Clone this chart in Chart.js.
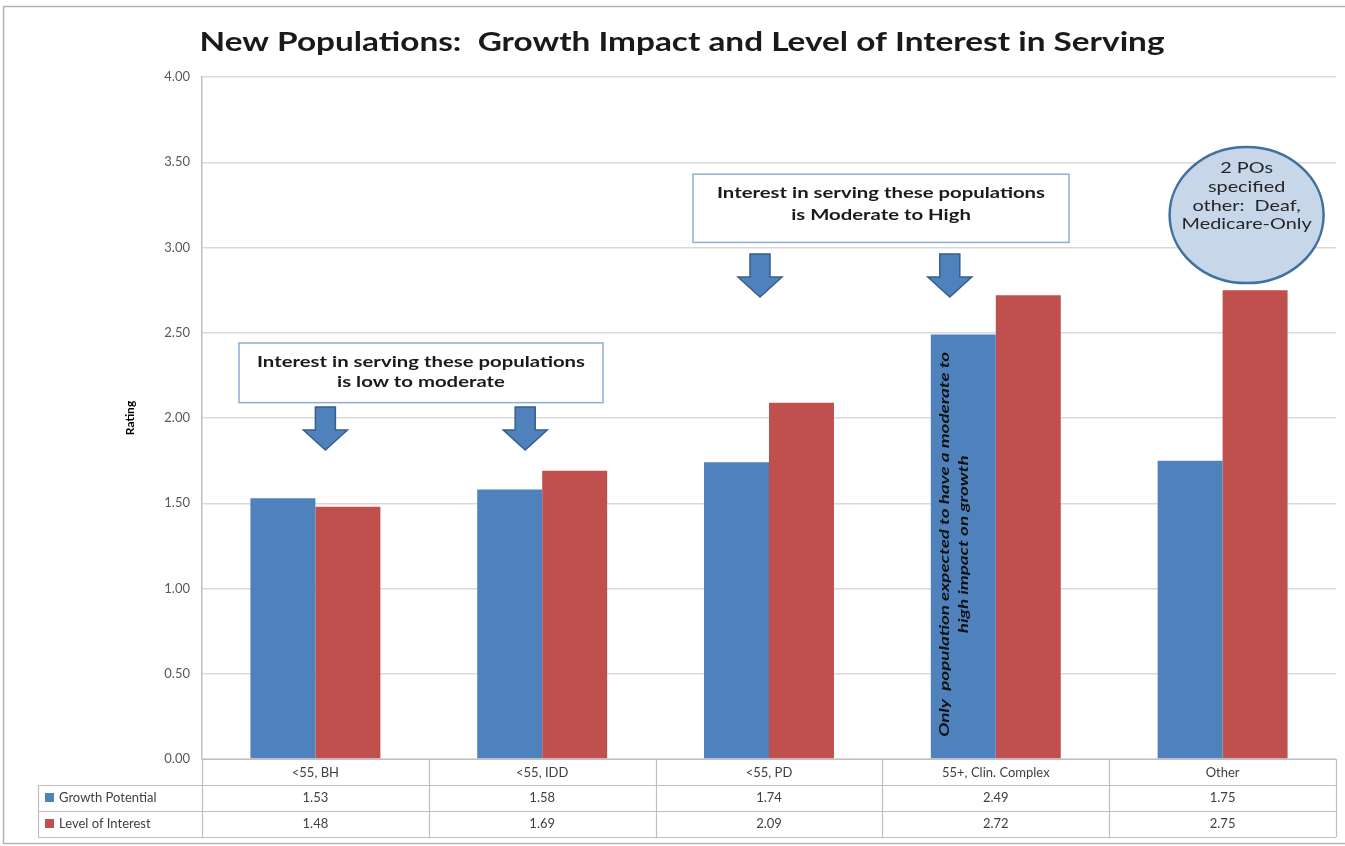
<!DOCTYPE html>
<html>
<head>
<meta charset="utf-8">
<script src="https://cdn.jsdelivr.net/npm/chart.js@4/dist/chart.umd.min.js"></script>
<style>
  html, body { margin: 0; padding: 0; background: #fff; overflow: hidden; }
  #wrap { width: 1345px; height: 846px; }
</style>
</head>
<body>
<div id="wrap"><canvas id="c" width="1345" height="846"></canvas></div>
<script>
// Population groups and their two ratings
const categories = ['<55, BH', '<55, IDD', '<55, PD', '55+, Clin. Complex', 'Other'];
const growthPotential = [1.53, 1.58, 1.74, 2.49, 1.75];
const levelOfInterest = [1.48, 1.69, 2.09, 2.72, 2.75];
const seriesNames = ['Growth Potential', 'Level of Interest'];
const seriesColors = ['#4f81bd', '#c0504d'];
const yTickValues = [0, 0.5, 1, 1.5, 2, 2.5, 3, 3.5, 4];

const chartTitle = 'New Populations:  Growth Impact and Level of Interest in Serving';
const yAxisTitle = 'Rating';
const lowNote = ['Interest in serving these populations', 'is low to moderate'];
const highNote = ['Interest in serving these populations', 'is Moderate to High'];
const otherNote = ['2 POs', 'specified', 'other:  Deaf,', 'Medicare-Only'];
const barNote = ['Only  population expected to have a moderate to', 'high impact on growth'];

const FONT = 'Lato, "Open Sans", sans-serif';

// Draw text squeezed/stretched horizontally to a given run width
function fitText(ctx, text, x, y, font, width, color) {
  ctx.save();
  ctx.font = font;
  const w = ctx.measureText(text).width;
  ctx.translate(x, y);
  ctx.scale(width / w, 1);
  ctx.textAlign = 'center';
  ctx.textBaseline = 'middle';
  ctx.fillStyle = color;
  ctx.fillText(text, 0, 0);
  ctx.restore();
}

function textScale(ctx, text, font, width) {
  ctx.save(); ctx.font = font;
  const s = width / ctx.measureText(text).width;
  ctx.restore();
  return s;
}

function downArrow(ctx, cx, top, headTop, tip) {
  ctx.save();
  ctx.beginPath();
  ctx.moveTo(cx - 10, top);
  ctx.lineTo(cx + 10, top);
  ctx.lineTo(cx + 10, headTop);
  ctx.lineTo(cx + 22, headTop);
  ctx.lineTo(cx, tip);
  ctx.lineTo(cx - 22, headTop);
  ctx.lineTo(cx - 10, headTop);
  ctx.closePath();
  ctx.fillStyle = '#4f81bd';
  ctx.fill();
  ctx.lineWidth = 1.5;
  ctx.strokeStyle = '#385d8a';
  ctx.stroke();
  ctx.restore();
}

function noteBox(ctx, x0, y0, x1, y1, lines, lineYs, lineWidth) {
  ctx.save();
  ctx.fillStyle = '#ffffff';
  ctx.fillRect(x0, y0, x1 - x0, y1 - y0);
  ctx.lineWidth = 1.5;
  ctx.strokeStyle = '#8eaed8';
  ctx.strokeRect(x0, y0, x1 - x0, y1 - y0);
  const font = 'bold 15px ' + FONT;
  const s = textScale(ctx, lines[0], font, lineWidth);
  lines.forEach((t, i) => {
    ctx.save();
    ctx.font = font;
    ctx.translate((x0 + x1) / 2, lineYs[i]);
    ctx.scale(s, 1);
    ctx.textAlign = 'center';
    ctx.textBaseline = 'middle';
    ctx.fillStyle = '#1a1a1a';
    ctx.fillText(t, 0, 0);
    ctx.restore();
  });
  ctx.restore();
}

const decorations = {
  id: 'decorations',
  beforeDraw(chart) {
    const ctx = chart.ctx;
    ctx.save();
    ctx.fillStyle = '#fff';
    ctx.fillRect(0, 0, chart.width, chart.height);
    // outer frame
    ctx.strokeStyle = '#b4b4b4';
    ctx.lineWidth = 1.5;
    ctx.strokeRect(3.5, 6.5, chart.width + 20, 837);
    ctx.restore();
    // chart title
    fitText(ctx, chartTitle, 682, 42, 'bold 27px ' + FONT, 965, '#1a1a1a');
    // y axis title
    ctx.save();
    ctx.translate(130, (chart.chartArea.top + chart.chartArea.bottom) / 2);
    ctx.rotate(-Math.PI / 2);
    ctx.font = 'bold 12px ' + FONT;
    ctx.textAlign = 'center';
    ctx.textBaseline = 'middle';
    ctx.fillStyle = '#000';
    ctx.fillText(yAxisTitle, 0, 0);
    ctx.restore();
  },
  afterDraw(chart) {
    const ctx = chart.ctx;
    const xs = chart.scales.x;
    const ys = chart.scales.y;
    const area = chart.chartArea;
    const n = categories.length;
    const catW = (area.right - area.left) / n;
    const rowH = 26;
    const top = area.bottom;
    const legendLeft = 38;

    // data table grid
    ctx.save();
    ctx.strokeStyle = '#bfbfbf';
    ctx.lineWidth = 1.2;
    ctx.beginPath();
    for (let i = 0; i <= n; i++) {
      const x = Math.round(area.left + i * catW) + 0.5;
      ctx.moveTo(x, top);
      ctx.lineTo(x, top + rowH * 3);
    }
    ctx.moveTo(area.left, top + 0.5); ctx.lineTo(area.right, top + 0.5);
    for (let r = 1; r <= 3; r++) {
      const y = Math.round(top + rowH * r) + 0.5;
      ctx.moveTo(legendLeft, y); ctx.lineTo(area.right, y);
    }
    ctx.moveTo(legendLeft + 0.5, top + rowH); ctx.lineTo(legendLeft + 0.5, top + rowH * 3);
    ctx.stroke();

    // series rows: legend key + values
    const series = [growthPotential, levelOfInterest];
    ctx.font = '13px ' + FONT;
    ctx.textBaseline = 'middle';
    series.forEach((vals, r) => {
      const cy = top + rowH * (r + 1) + rowH / 2;
      ctx.fillStyle = seriesColors[r];
      ctx.fillRect(45, cy - 5, 9, 9);
      ctx.fillStyle = '#404040';
      ctx.textAlign = 'left';
      ctx.fillText(seriesNames[r], 59, cy);
      ctx.textAlign = 'center';
      vals.forEach((v, i) => ctx.fillText(v.toFixed(2), xs.getPixelForValue(i), cy));
    });
    ctx.restore();

    // note boxes with arrows
    noteBox(ctx, 239, ys.getPixelForValue(2.44), 603, ys.getPixelForValue(2.09), lowNote,
            [ys.getPixelForValue(2.33), ys.getPixelForValue(2.21)], 328);
    downArrow(ctx, xs.getPixelForValue(0) + 10, 407, 430, 450);
    downArrow(ctx, xs.getPixelForValue(1) - 17, 407, 430, 450);

    noteBox(ctx, 693, ys.getPixelForValue(3.43), 1069, ys.getPixelForValue(3.03), highNote,
            [ys.getPixelForValue(3.32), ys.getPixelForValue(3.19)], 328);
    downArrow(ctx, xs.getPixelForValue(2) - 9, 254, 277, 297);
    downArrow(ctx, xs.getPixelForValue(3) - 46, 254, 277, 297);

    // callout bubble over "Other"
    const ex = xs.getPixelForValue(4) + 24, ey = ys.getPixelForValue(3.19);
    ctx.save();
    ctx.beginPath();
    ctx.ellipse(ex, ey, 77, 68, 0, 0, Math.PI * 2);
    ctx.fillStyle = '#c8d6ea';
    ctx.fill();
    ctx.lineWidth = 2.5;
    ctx.strokeStyle = '#41719c';
    ctx.stroke();
    const bf = '16px ' + FONT;
    const bs = textScale(ctx, otherNote[3], bf, 130);
    const ly = [168, 187, 206, 224];
    otherNote.forEach((t, i) => {
      ctx.save();
      ctx.font = bf;
      ctx.translate(ex, ly[i]);
      ctx.scale(bs, 1);
      ctx.textAlign = 'center';
      ctx.textBaseline = 'middle';
      ctx.fillStyle = '#262626';
      ctx.fillText(t, 0, 0);
      ctx.restore();
    });
    ctx.restore();

    // rotated note inside the 55+ growth bar
    const bar = chart.getDatasetMeta(0).data[3];
    const midY = (bar.y + bar.base) / 2;
    const rf = 'italic bold 14px ' + FONT;
    const rs = textScale(ctx, barNote[0], rf, 385);
    [bar.x - 19, bar.x].forEach((lx, i) => {
      ctx.save();
      ctx.font = rf;
      ctx.translate(lx, midY - 2);
      ctx.rotate(-Math.PI / 2);
      ctx.scale(rs, 1);
      ctx.textAlign = 'center';
      ctx.textBaseline = 'middle';
      ctx.fillStyle = '#111';
      ctx.fillText(barNote[i], 0, 0);
      ctx.restore();
    });
  }
};

new Chart(document.getElementById('c'), {
  type: 'bar',
  data: {
    labels: categories,
    datasets: [
      { label: seriesNames[0], data: growthPotential, backgroundColor: seriesColors[0] },
      { label: seriesNames[1], data: levelOfInterest, backgroundColor: seriesColors[1] }
    ]
  },
  options: {
    responsive: false,
    animation: false,
    devicePixelRatio: 1,
    layout: { padding: { top: 77, right: 9, left: 0, bottom: 0 } },
    datasets: { bar: { categoryPercentage: 0.573, barPercentage: 1.0 } },
    plugins: { legend: { display: false }, tooltip: { enabled: false }, title: { display: false } },
    scales: {
      x: {
        afterFit: s => { s.height = 87; },
        grid: { display: false },
        border: { display: true, color: '#bfbfbf' },
        ticks: { padding: -2, color: '#404040', font: { family: FONT, size: 13 } }
      },
      y: {
        min: 0, max: 4,
        afterFit: s => { s.width = 202; },
        afterBuildTicks: s => { s.ticks = yTickValues.map(v => ({ value: v })); },
        grid: { color: '#d9d9d9', lineWidth: 1.5, drawTicks: false },
        border: { display: true, color: '#bfbfbf', width: 1.5 },
        ticks: {
          padding: 12, color: '#595959', font: { family: FONT, size: 13 },
          callback: v => Number(v).toFixed(2)
        }
      }
    }
  },
  plugins: [decorations]
});
</script>
</body>
</html>
